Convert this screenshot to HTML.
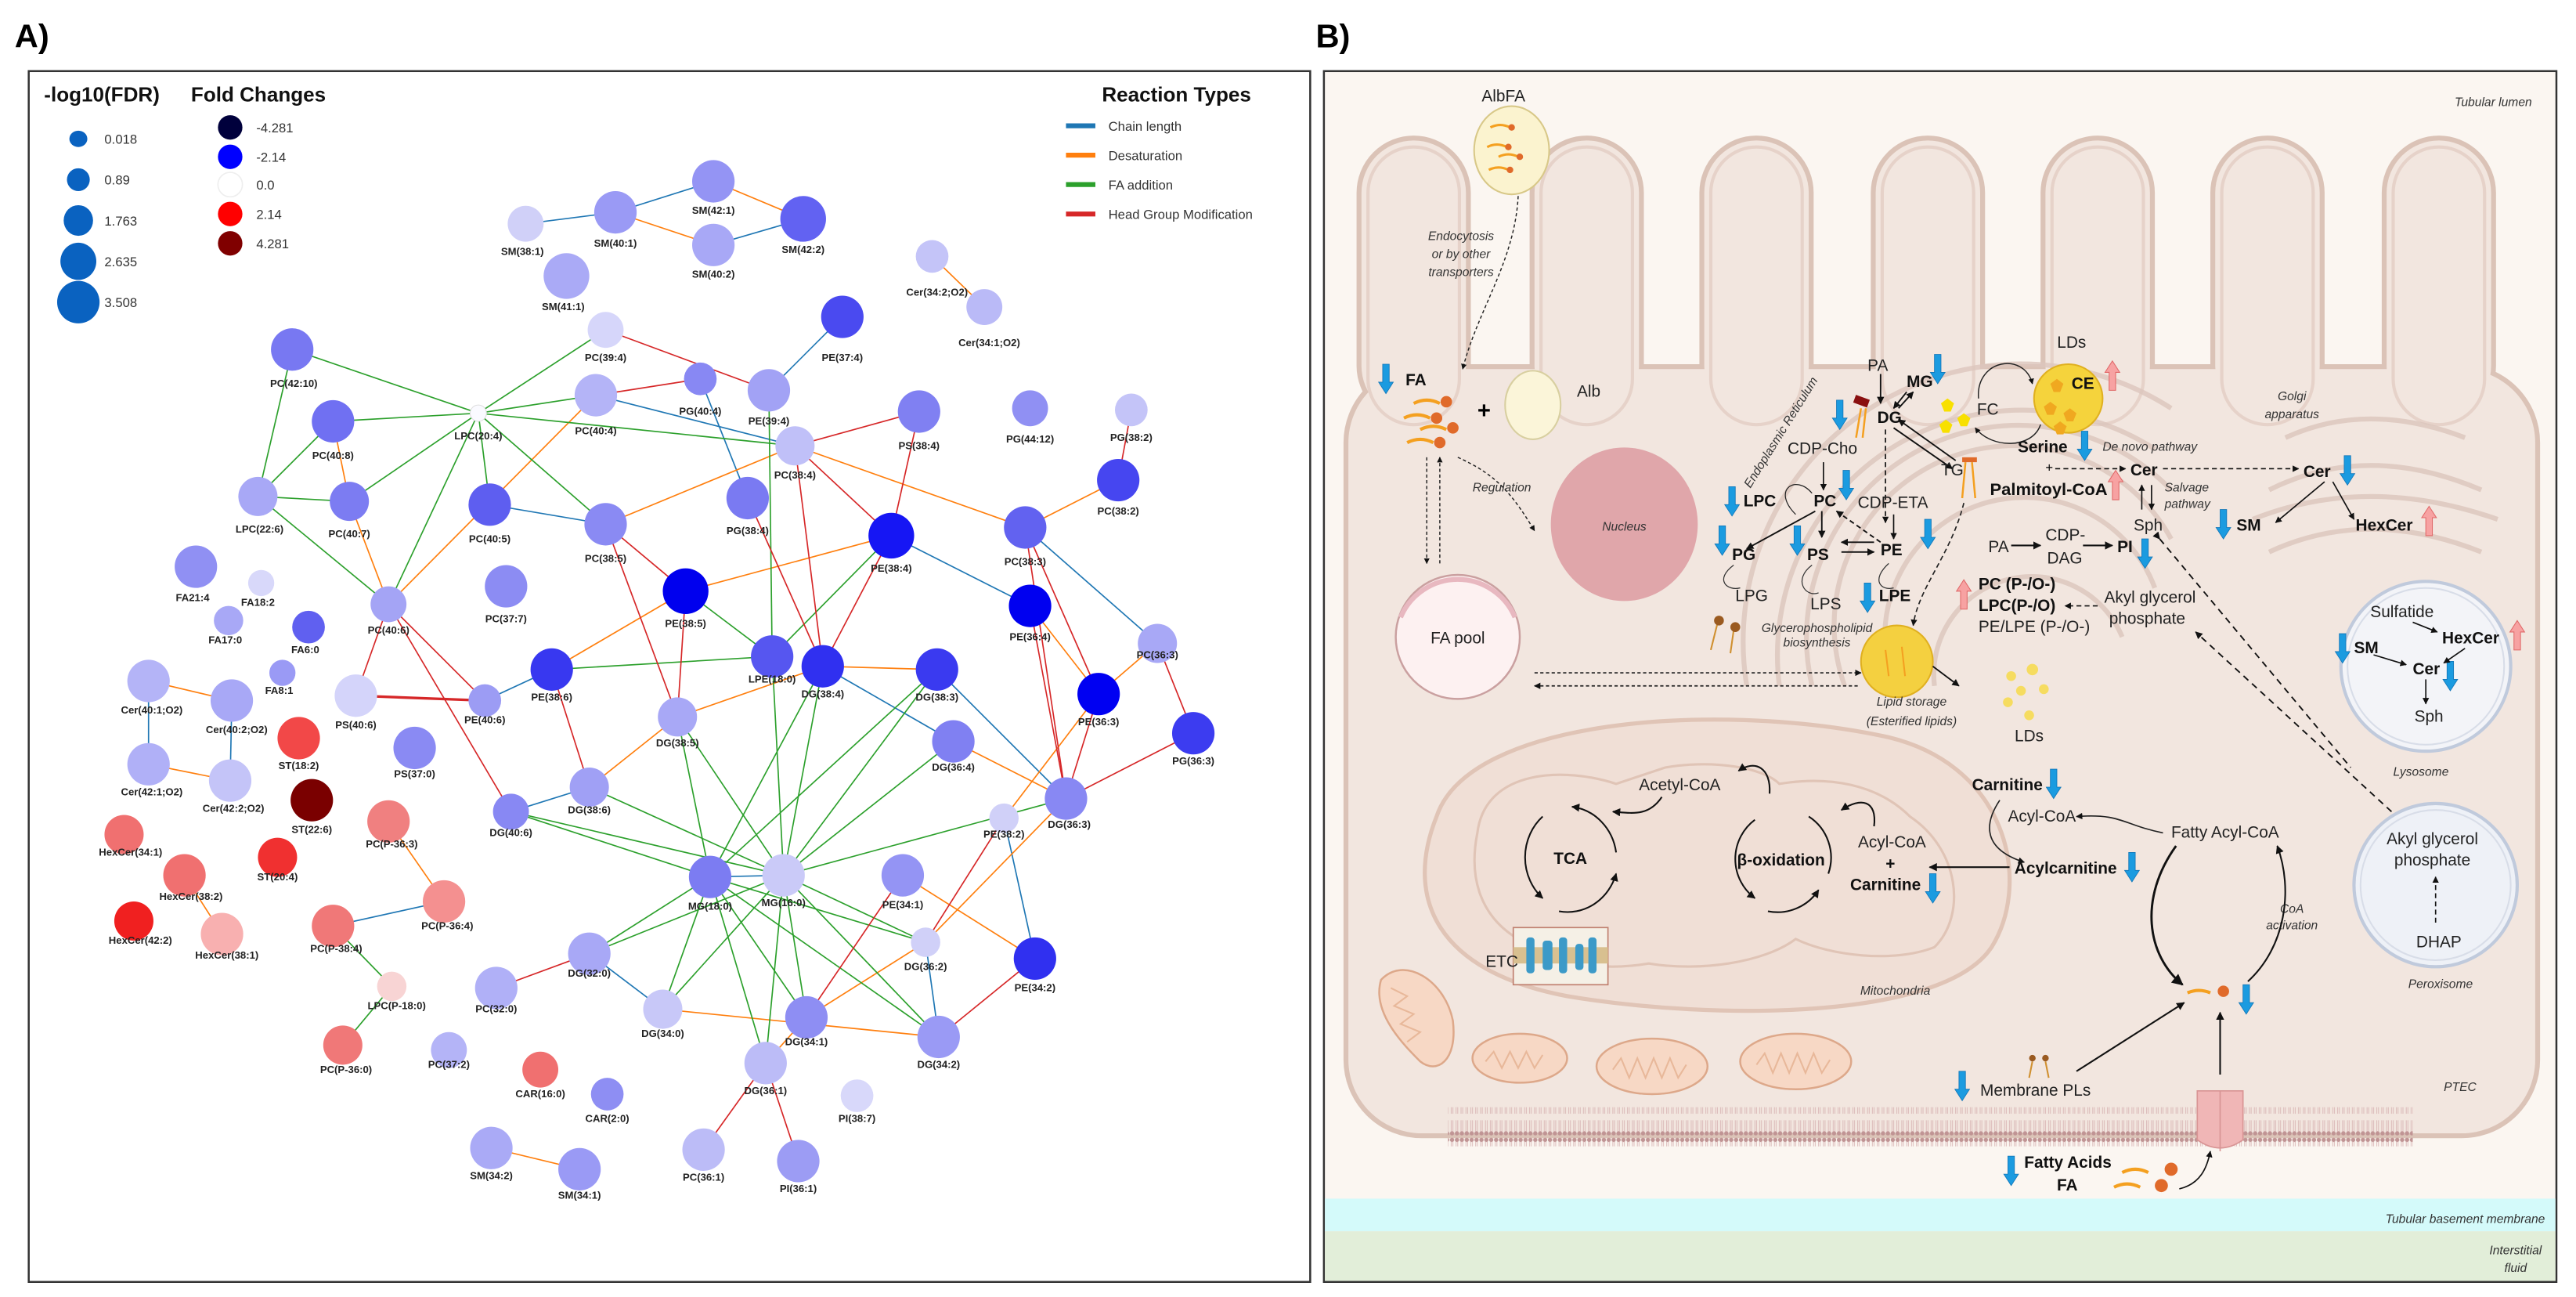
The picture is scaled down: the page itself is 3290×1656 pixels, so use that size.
<!DOCTYPE html>
<html><head><meta charset="utf-8"><style>
html,body{margin:0;padding:0;background:#fff}
svg{display:block}
.nl{font-family:"Liberation Sans Narrow","Liberation Sans",sans-serif;font-weight:bold;font-size:6.3px;fill:#222;text-anchor:middle}
.lg{font-family:"Liberation Sans Narrow","Liberation Sans",sans-serif;font-size:8px;fill:#333}
.lt{font-family:"Liberation Sans Narrow","Liberation Sans",sans-serif;font-weight:bold;font-size:12.5px;fill:#111}
.t{font-family:"Liberation Sans Narrow","Liberation Sans",sans-serif;font-size:10px;fill:#222}
.b{font-family:"Liberation Sans Narrow","Liberation Sans",sans-serif;font-size:10px;font-weight:bold;fill:#111}
.i{font-family:"Liberation Sans Narrow","Liberation Sans",sans-serif;font-size:7.5px;font-style:italic;fill:#333}
</style></head><body>
<svg width="3290" height="1656" viewBox="0 0 1578 794.2" xmlns="http://www.w3.org/2000/svg">
<defs>
<path id="da" d="M-2,0 H2 V11 H4.5 L0,18 L-4.5,11 H-2 Z" fill="#1b9be0" stroke="#1276b8" stroke-width="0.4"/>
<path id="ua" d="M-2,18 H2 V7 H4.5 L0,0 L-4.5,7 H-2 Z" fill="#f7a2a2" stroke="#e06868" stroke-width="0.5"/>
<marker id="ar" viewBox="0 0 10 10" refX="9" refY="5" markerWidth="5" markerHeight="5" orient="auto"><path d="M0,0 L10,5 L0,10 Z" fill="#111"/></marker>
<pattern id="mem" width="3" height="24" patternUnits="userSpaceOnUse"><circle cx="1.5" cy="2" r="1.3" fill="#c09494"/><circle cx="1.5" cy="22" r="1.3" fill="#c09494"/><line x1="1" y1="3" x2="1" y2="10" stroke="#d6b0b0" stroke-width="0.4"/><line x1="2" y1="3" x2="2" y2="10" stroke="#d6b0b0" stroke-width="0.4"/><line x1="1" y1="14" x2="1" y2="21" stroke="#d6b0b0" stroke-width="0.4"/><line x1="2" y1="14" x2="2" y2="21" stroke="#d6b0b0" stroke-width="0.4"/></pattern>
</defs>
<rect width="1578" height="794.2" fill="#fff"/>
<!-- PANEL A -->
<text x="9" y="29" font-family="Liberation Sans, sans-serif" font-weight="bold" font-size="20">A)</text>
<rect x="17.6" y="43.5" width="785" height="741.5" fill="#fff" stroke="#333" stroke-width="1.2"/>
<text class="lt" x="27" y="62">-log10(FDR)</text>
<text class="lt" x="117" y="62">Fold Changes</text>
<text class="lt" x="675" y="62">Reaction Types</text>
<g fill="#0a62c0"><ellipse cx="48" cy="85" rx="5.5" ry="5"/><ellipse cx="48" cy="110" rx="7" ry="7"/><ellipse cx="48" cy="135" rx="9" ry="9.4"/><ellipse cx="48" cy="160" rx="11" ry="11.4"/><ellipse cx="48" cy="185" rx="13" ry="13"/></g>
<g class="lg"><text x="64" y="88">0.018</text><text x="64" y="113">0.89</text><text x="64" y="138">1.763</text><text x="64" y="163">2.635</text><text x="64" y="188">3.508</text></g>
<circle cx="141" cy="78" r="7.5" fill="#00003c"/><circle cx="141" cy="96" r="7.5" fill="#0000ff"/><circle cx="141" cy="113" r="7.5" fill="#fff" stroke="#eee" stroke-width="0.8"/><circle cx="141" cy="131" r="7.5" fill="#ff0000"/><circle cx="141" cy="149" r="7.5" fill="#800000"/>
<g class="lg"><text x="157" y="81">-4.281</text><text x="157" y="99">-2.14</text><text x="157" y="116">0.0</text><text x="157" y="134">2.14</text><text x="157" y="152">4.281</text></g>
<g stroke-width="3"><line x1="653" y1="77" x2="671" y2="77" stroke="#1f77b4"/><line x1="653" y1="95" x2="671" y2="95" stroke="#ff7f0e"/><line x1="653" y1="113" x2="671" y2="113" stroke="#2ca02c"/><line x1="653" y1="131" x2="671" y2="131" stroke="#d62728"/></g>
<g class="lg"><text x="679" y="80">Chain length</text><text x="679" y="98">Desaturation</text><text x="679" y="116">FA addition</text><text x="679" y="134">Head Group Modification</text></g>
<!-- edges -->
<g stroke-width="0.8" fill="none">
<g stroke="#1f77b4">
<line x1="322" y1="137" x2="377" y2="130"/><line x1="377" y1="130" x2="437" y2="111"/><line x1="437" y1="150" x2="492" y2="134"/><line x1="516" y1="194" x2="471" y2="239"/><line x1="365" y1="242" x2="487" y2="273"/><line x1="429" y1="232" x2="458" y2="305"/><line x1="300" y1="309" x2="371" y2="321"/><line x1="546" y1="328" x2="631" y2="371"/><line x1="628" y1="323" x2="709" y2="394"/><line x1="574" y1="410" x2="653" y2="489"/><line x1="504" y1="408" x2="584" y2="454"/><line x1="91" y1="417" x2="91" y2="468"/><line x1="142" y1="429" x2="141" y2="478"/><line x1="297" y1="429" x2="338" y2="410"/><line x1="313" y1="497" x2="361" y2="482"/><line x1="435" y1="537" x2="480" y2="536"/><line x1="361" y1="584" x2="406" y2="618"/><line x1="567" y1="577" x2="575" y2="635"/><line x1="615" y1="501" x2="634" y2="587"/><line x1="204" y1="567" x2="272" y2="552"/>
</g>
<g stroke="#ff7f0e">
<line x1="377" y1="130" x2="437" y2="150"/><line x1="437" y1="111" x2="492" y2="134"/><line x1="571" y1="157" x2="603" y2="188"/><line x1="204" y1="258" x2="214" y2="307"/><line x1="214" y1="307" x2="238" y2="370"/><line x1="365" y1="242" x2="238" y2="370"/><line x1="487" y1="273" x2="371" y2="321"/><line x1="487" y1="273" x2="628" y2="323"/><line x1="685" y1="294" x2="628" y2="323"/><line x1="546" y1="328" x2="420" y2="362"/><line x1="415" y1="439" x2="504" y2="408"/><line x1="361" y1="482" x2="415" y2="439"/><line x1="504" y1="408" x2="574" y2="410"/><line x1="584" y1="454" x2="653" y2="489"/><line x1="673" y1="425" x2="615" y2="501"/><line x1="631" y1="371" x2="673" y2="425"/><line x1="653" y1="489" x2="567" y2="577"/><line x1="553" y1="536" x2="634" y2="587"/><line x1="406" y1="618" x2="575" y2="635"/><line x1="494" y1="623" x2="567" y2="577"/><line x1="91" y1="417" x2="142" y2="429"/><line x1="91" y1="468" x2="141" y2="478"/><line x1="301" y1="703" x2="355" y2="716"/><line x1="238" y1="503" x2="272" y2="552"/><line x1="113" y1="536" x2="136" y2="572"/><line x1="469" y1="651" x2="494" y2="623"/><line x1="420" y1="362" x2="338" y2="410"/><line x1="709" y1="394" x2="673" y2="425"/>
</g>
<g stroke="#2ca02c">
<line x1="293" y1="253" x2="179" y2="214"/><line x1="293" y1="253" x2="371" y2="202"/><line x1="293" y1="253" x2="365" y2="242"/><line x1="293" y1="253" x2="204" y2="258"/><line x1="293" y1="253" x2="487" y2="273"/><line x1="293" y1="253" x2="214" y2="307"/><line x1="293" y1="253" x2="300" y2="309"/><line x1="293" y1="253" x2="371" y2="321"/><line x1="293" y1="253" x2="238" y2="370"/><line x1="179" y1="214" x2="158" y2="304"/><line x1="204" y1="258" x2="158" y2="304"/><line x1="158" y1="304" x2="214" y2="307"/><line x1="158" y1="304" x2="238" y2="370"/><line x1="471" y1="239" x2="473" y2="402"/><line x1="546" y1="328" x2="473" y2="402"/><line x1="420" y1="362" x2="473" y2="402"/><line x1="338" y1="410" x2="473" y2="402"/><line x1="473" y1="402" x2="480" y2="536"/><line x1="504" y1="408" x2="435" y2="537"/><line x1="504" y1="408" x2="480" y2="536"/><line x1="574" y1="410" x2="435" y2="537"/><line x1="574" y1="410" x2="480" y2="536"/><line x1="415" y1="439" x2="435" y2="537"/><line x1="415" y1="439" x2="480" y2="536"/><line x1="361" y1="482" x2="480" y2="536"/><line x1="313" y1="497" x2="435" y2="537"/><line x1="313" y1="497" x2="480" y2="536"/><line x1="584" y1="454" x2="480" y2="536"/><line x1="653" y1="489" x2="480" y2="536"/><line x1="435" y1="537" x2="361" y2="584"/><line x1="480" y1="536" x2="361" y2="584"/><line x1="435" y1="537" x2="406" y2="618"/><line x1="480" y1="536" x2="406" y2="618"/><line x1="435" y1="537" x2="494" y2="623"/><line x1="480" y1="536" x2="494" y2="623"/><line x1="435" y1="537" x2="469" y2="651"/><line x1="480" y1="536" x2="469" y2="651"/><line x1="435" y1="537" x2="567" y2="577"/><line x1="480" y1="536" x2="567" y2="577"/><line x1="480" y1="536" x2="575" y2="635"/><line x1="435" y1="537" x2="575" y2="635"/><line x1="204" y1="567" x2="240" y2="604"/><line x1="240" y1="604" x2="210" y2="640"/>
</g>
<g stroke="#d62728">
<line x1="371" y1="202" x2="471" y2="239"/><line x1="365" y1="242" x2="429" y2="232"/><line x1="487" y1="273" x2="563" y2="252"/><line x1="693" y1="251" x2="685" y2="294"/><line x1="487" y1="273" x2="546" y2="328"/><line x1="563" y1="252" x2="546" y2="328"/><line x1="371" y1="321" x2="420" y2="362"/><line x1="458" y1="305" x2="504" y2="408"/><line x1="487" y1="273" x2="504" y2="408"/><line x1="628" y1="323" x2="673" y2="425"/><line x1="628" y1="323" x2="653" y2="489"/><line x1="238" y1="370" x2="218" y2="426"/><line x1="238" y1="370" x2="297" y2="429"/><line x1="238" y1="370" x2="313" y2="497"/><line x1="218" y1="426" x2="297" y2="429" stroke-width="1.6"/><line x1="338" y1="410" x2="361" y2="482"/><line x1="371" y1="321" x2="415" y2="439"/><line x1="420" y1="362" x2="415" y2="439"/><line x1="673" y1="425" x2="653" y2="489"/><line x1="709" y1="394" x2="731" y2="449"/><line x1="731" y1="449" x2="653" y2="489"/><line x1="553" y1="536" x2="494" y2="623"/><line x1="634" y1="587" x2="575" y2="635"/><line x1="615" y1="501" x2="567" y2="577"/><line x1="361" y1="584" x2="304" y2="605"/><line x1="469" y1="651" x2="431" y2="704"/><line x1="469" y1="651" x2="489" y2="711"/><line x1="631" y1="371" x2="653" y2="489"/><line x1="546" y1="328" x2="504" y2="408"/>
</g>
</g>
<!-- nodes -->
<g>
<circle cx="322" cy="137" r="11" fill="#d0d0f8"/><circle cx="377" cy="130" r="13" fill="#9a9af5"/><circle cx="437" cy="111" r="13" fill="#9494f4"/><circle cx="492" cy="134" r="14" fill="#6262f2"/><circle cx="437" cy="150" r="13" fill="#a8a8f6"/><circle cx="347" cy="169" r="14" fill="#aaaaf6"/><circle cx="571" cy="157" r="10" fill="#c4c4f8"/><circle cx="603" cy="188" r="11" fill="#babaf7"/><circle cx="516" cy="194" r="13" fill="#4a4af0"/><circle cx="371" cy="202" r="11" fill="#d6d6fa"/><circle cx="179" cy="214" r="13" fill="#7878f2"/><circle cx="429" cy="232" r="10" fill="#8888f3"/><circle cx="471" cy="239" r="13" fill="#a2a2f5"/><circle cx="365" cy="242" r="13" fill="#b4b4f7"/><circle cx="293" cy="253" r="5" fill="#fafaff" stroke="#ddd" stroke-width="0.5"/><circle cx="563" cy="252" r="13" fill="#8080f2"/><circle cx="631" cy="250" r="11" fill="#9090f3"/><circle cx="693" cy="251" r="10" fill="#c4c4f8"/><circle cx="204" cy="258" r="13" fill="#7070f2"/><circle cx="487" cy="273" r="12" fill="#c0c0f8"/><circle cx="158" cy="304" r="12" fill="#a8a8f6"/><circle cx="214" cy="307" r="12" fill="#7c7cf2"/><circle cx="300" cy="309" r="13" fill="#5e5ef0"/><circle cx="371" cy="321" r="13" fill="#8a8af3"/><circle cx="458" cy="305" r="13" fill="#7a7af2"/><circle cx="546" cy="328" r="14" fill="#1616f4"/><circle cx="628" cy="323" r="13" fill="#6262f0"/><circle cx="685" cy="294" r="13" fill="#4646f0"/><circle cx="120" cy="347" r="13" fill="#9090f3"/><circle cx="160" cy="357" r="8" fill="#d8d8fa"/><circle cx="140" cy="380" r="9" fill="#a8a8f6"/><circle cx="238" cy="370" r="11" fill="#a4a4f5"/><circle cx="310" cy="359" r="13" fill="#8c8cf3"/><circle cx="420" cy="362" r="14" fill="#0000ee"/><circle cx="631" cy="371" r="13" fill="#0000f0"/>
<circle cx="189" cy="384" r="10" fill="#6060f0"/><circle cx="173" cy="412" r="8" fill="#9a9af5"/><circle cx="91" cy="417" r="13" fill="#b4b4f7"/><circle cx="142" cy="429" r="13" fill="#a8a8f6"/><circle cx="91" cy="468" r="13" fill="#b0b0f7"/><circle cx="141" cy="478" r="13" fill="#c4c4f8"/><circle cx="183" cy="452" r="13" fill="#f24848"/><circle cx="191" cy="490" r="13" fill="#7a0000"/><circle cx="170" cy="525" r="12" fill="#f03030"/><circle cx="218" cy="426" r="13" fill="#d4d4fa"/><circle cx="297" cy="429" r="10" fill="#9c9cf4"/><circle cx="338" cy="410" r="13" fill="#3838f0"/><circle cx="254" cy="458" r="13" fill="#8a8af3"/><circle cx="415" cy="439" r="12" fill="#a8a8f6"/><circle cx="361" cy="482" r="12" fill="#a0a0f5"/><circle cx="313" cy="497" r="11" fill="#8888f3"/><circle cx="473" cy="402" r="13" fill="#5656f0"/><circle cx="504" cy="408" r="13" fill="#3030f0"/><circle cx="574" cy="410" r="13" fill="#3a3af0"/><circle cx="673" cy="425" r="13" fill="#0000f2"/><circle cx="731" cy="449" r="13" fill="#3c3cf0"/><circle cx="709" cy="394" r="12" fill="#a8a8f6"/><circle cx="584" cy="454" r="13" fill="#8080f2"/><circle cx="653" cy="489" r="13" fill="#8888f3"/><circle cx="615" cy="501" r="9" fill="#d0d0f8"/><circle cx="435" cy="537" r="13" fill="#7c7cf2"/><circle cx="480" cy="536" r="13" fill="#cacaf8"/><circle cx="553" cy="536" r="13" fill="#9494f4"/><circle cx="567" cy="577" r="9" fill="#d0d0f8"/><circle cx="634" cy="587" r="13" fill="#3030f0"/><circle cx="361" cy="584" r="13" fill="#a8a8f6"/><circle cx="304" cy="605" r="13" fill="#b0b0f7"/><circle cx="406" cy="618" r="12" fill="#c8c8f8"/><circle cx="494" cy="623" r="13" fill="#8e8ef3"/><circle cx="575" cy="635" r="13" fill="#9a9af5"/><circle cx="469" cy="651" r="13" fill="#bcbcf7"/><circle cx="275" cy="643" r="11" fill="#b4b4f7"/><circle cx="204" cy="567" r="13" fill="#f07878"/><circle cx="238" cy="503" r="13" fill="#f08080"/><circle cx="272" cy="552" r="13" fill="#f49090"/><circle cx="240" cy="604" r="9" fill="#f8d4d4"/><circle cx="210" cy="640" r="12" fill="#f07878"/><circle cx="76" cy="511" r="12" fill="#f07070"/><circle cx="113" cy="536" r="13" fill="#f07070"/><circle cx="82" cy="564" r="12" fill="#f02020"/><circle cx="136" cy="572" r="13" fill="#f8b0b0"/><circle cx="331" cy="655" r="11" fill="#f07070"/><circle cx="372" cy="670" r="10" fill="#8e8ef3"/><circle cx="525" cy="671" r="10" fill="#d8d8fa"/><circle cx="301" cy="703" r="13" fill="#aaaaf6"/><circle cx="355" cy="716" r="13" fill="#9a9af5"/><circle cx="431" cy="704" r="13" fill="#bcbcf7"/><circle cx="489" cy="711" r="13" fill="#9c9cf4"/>
</g>
<g class="nl">
<text x="320" y="156">SM(38:1)</text><text x="377" y="151">SM(40:1)</text><text x="437" y="131">SM(42:1)</text><text x="492" y="155">SM(42:2)</text><text x="437" y="170">SM(40:2)</text><text x="345" y="190">SM(41:1)</text><text x="574" y="181">Cer(34:2;O2)</text><text x="606" y="212">Cer(34:1;O2)</text><text x="516" y="221">PE(37:4)</text><text x="371" y="221">PC(39:4)</text><text x="180" y="237">PC(42:10)</text><text x="429" y="254">PG(40:4)</text><text x="471" y="260">PE(39:4)</text><text x="365" y="266">PC(40:4)</text><text x="293" y="269">LPC(20:4)</text><text x="563" y="275">PS(38:4)</text><text x="631" y="271">PG(44:12)</text><text x="693" y="270">PG(38:2)</text><text x="204" y="281">PC(40:8)</text><text x="487" y="293">PC(38:4)</text><text x="159" y="326">LPC(22:6)</text><text x="214" y="329">PC(40:7)</text><text x="300" y="332">PC(40:5)</text><text x="371" y="344">PC(38:5)</text><text x="458" y="327">PG(38:4)</text><text x="546" y="350">PE(38:4)</text><text x="628" y="346">PC(38:3)</text><text x="685" y="315">PC(38:2)</text><text x="118" y="368">FA21:4</text><text x="158" y="371">FA18:2</text><text x="138" y="394">FA17:0</text><text x="238" y="388">PC(40:6)</text><text x="310" y="381">PC(37:7)</text><text x="420" y="384">PE(38:5)</text><text x="631" y="392">PE(36:4)</text>
<text x="187" y="400">FA6:0</text><text x="171" y="425">FA8:1</text><text x="93" y="437">Cer(40:1;O2)</text><text x="145" y="449">Cer(40:2;O2)</text><text x="93" y="487">Cer(42:1;O2)</text><text x="143" y="497">Cer(42:2;O2)</text><text x="183" y="471">ST(18:2)</text><text x="191" y="510">ST(22:6)</text><text x="170" y="539">ST(20:4)</text><text x="218" y="446">PS(40:6)</text><text x="297" y="443">PE(40:6)</text><text x="338" y="429">PE(38:6)</text><text x="254" y="476">PS(37:0)</text><text x="415" y="457">DG(38:5)</text><text x="361" y="498">DG(38:6)</text><text x="313" y="512">DG(40:6)</text><text x="473" y="418">LPE(18:0)</text><text x="504" y="427">DG(38:4)</text><text x="574" y="429">DG(38:3)</text><text x="673" y="444">PE(36:3)</text><text x="731" y="468">PG(36:3)</text><text x="709" y="403">PC(36:3)</text><text x="584" y="472">DG(36:4)</text><text x="655" y="507">DG(36:3)</text><text x="615" y="513">PE(38:2)</text><text x="435" y="557">MG(18:0)</text><text x="480" y="555">MG(16:0)</text><text x="553" y="556">PE(34:1)</text><text x="567" y="594">DG(36:2)</text><text x="634" y="607">PE(34:2)</text><text x="361" y="598">DG(32:0)</text><text x="304" y="620">PC(32:0)</text><text x="406" y="635">DG(34:0)</text><text x="494" y="640">DG(34:1)</text><text x="575" y="654">DG(34:2)</text><text x="469" y="670">DG(36:1)</text><text x="275" y="654">PC(37:2)</text><text x="206" y="583">PC(P-38:4)</text><text x="240" y="519">PC(P-36:3)</text><text x="274" y="569">PC(P-36:4)</text><text x="243" y="618">LPC(P-18:0)</text><text x="212" y="657">PC(P-36:0)</text><text x="80" y="524">HexCer(34:1)</text><text x="117" y="551">HexCer(38:2)</text><text x="86" y="578">HexCer(42:2)</text><text x="139" y="587">HexCer(38:1)</text><text x="331" y="672">CAR(16:0)</text><text x="372" y="687">CAR(2:0)</text><text x="525" y="687">PI(38:7)</text><text x="301" y="722">SM(34:2)</text><text x="355" y="734">SM(34:1)</text><text x="431" y="723">PC(36:1)</text><text x="489" y="730">PI(36:1)</text>
</g>

<!-- PANEL B -->
<text x="806" y="29" font-family="Liberation Sans, sans-serif" font-weight="bold" font-size="20">B)</text>
<rect x="811" y="43.5" width="755" height="741.5" fill="#fbf6f1" stroke="#333" stroke-width="1.2"/>
<rect x="811.6" y="734" width="753.8" height="20" fill="#d4fafa"/>
<rect x="811.6" y="754" width="753.8" height="30.4" fill="#e2eed9"/>
<!-- cell -->
<g stroke="#dbc3b7" stroke-width="6" fill="#f2e6df">
<rect x="826" y="226" width="727" height="468" rx="45"/>
<rect x="834" y="86" width="64" height="170" rx="32"/><rect x="940" y="86" width="64" height="170" rx="32"/><rect x="1044" y="86" width="64" height="170" rx="32"/><rect x="1149" y="86" width="64" height="170" rx="32"/><rect x="1253" y="86" width="64" height="170" rx="32"/><rect x="1357" y="86" width="64" height="170" rx="32"/><rect x="1462" y="86" width="64" height="170" rx="32"/>
</g>
<g fill="#f2e6df">
<rect x="826" y="226" width="727" height="468" rx="45"/>
<rect x="834" y="86" width="64" height="170" rx="32"/><rect x="940" y="86" width="64" height="170" rx="32"/><rect x="1044" y="86" width="64" height="170" rx="32"/><rect x="1149" y="86" width="64" height="170" rx="32"/><rect x="1253" y="86" width="64" height="170" rx="32"/><rect x="1357" y="86" width="64" height="170" rx="32"/><rect x="1462" y="86" width="64" height="170" rx="32"/>
</g>
<g stroke="#e6d2c9" stroke-width="2" fill="none">
<rect x="838" y="90" width="56" height="170" rx="28"/><rect x="944" y="90" width="56" height="170" rx="28"/><rect x="1048" y="90" width="56" height="170" rx="28"/><rect x="1153" y="90" width="56" height="170" rx="28"/><rect x="1257" y="90" width="56" height="170" rx="28"/><rect x="1361" y="90" width="56" height="170" rx="28"/><rect x="1466" y="90" width="56" height="170" rx="28"/>
</g>
<text class="i" x="1551" y="65" text-anchor="end">Tubular lumen</text>
<!-- ER arcs -->
<g stroke="#dcc6bd" stroke-width="3" fill="none" opacity="0.8">
<path d="M1070,420 A170,170 0 0 1 1330,250"/><path d="M1090,420 A150,150 0 0 1 1320,275"/><path d="M1110,420 A130,130 0 0 1 1330,300"/><path d="M1130,420 A110,110 0 0 1 1330,330"/><path d="M1160,420 A85,85 0 0 1 1320,360"/><path d="M1185,420 A60,60 0 0 1 1300,390"/>
<path d="M1390,300 Q1450,270 1520,300"/><path d="M1380,318 Q1450,290 1530,318"/><path d="M1390,338 Q1450,310 1520,338"/><path d="M1400,268 Q1450,245 1510,268"/>
</g>
<!-- AlbFA -->
<text class="t" x="921" y="62" text-anchor="middle">AlbFA</text>
<ellipse cx="926" cy="92" rx="23" ry="27" fill="#fbf3cf" stroke="#d8c888" stroke-width="1"/>
<g stroke="#f4a020" stroke-width="1.5" fill="none"><path d="M913,78 q6,-3 12,0"/><path d="M911,90 q6,-3 12,0"/><path d="M918,96 q6,-3 12,0"/><path d="M912,104 q6,-3 12,0"/></g>
<g fill="#e06a2a"><circle cx="926" cy="78" r="2"/><circle cx="924" cy="90" r="2"/><circle cx="931" cy="96" r="2"/><circle cx="925" cy="104" r="2"/></g>
<g class="i" text-anchor="middle" font-size="8.5"><text x="895" y="147">Endocytosis</text><text x="895" y="158">or by other</text><text x="895" y="169">transporters</text></g>
<path d="M930,120 C928,160 905,190 896,226" stroke="#222" stroke-width="0.7" stroke-dasharray="2,1.5" fill="none" marker-end="url(#ar)"/>
<use href="#da" x="849" y="223"/><text class="b" x="861" y="236">FA</text>
<g stroke="#f4a020" stroke-width="2" fill="none"><path d="M866,247 q8,-4 16,0"/><path d="M860,256 q8,-4 16,0"/><path d="M870,263 q8,-4 16,0"/><path d="M862,271 q8,-4 16,0"/></g>
<g fill="#e06a2a"><circle cx="886" cy="246" r="3.5"/><circle cx="880" cy="256" r="3.5"/><circle cx="890" cy="262" r="3.5"/><circle cx="882" cy="271" r="3.5"/></g>
<text x="905" y="256" font-family="Liberation Sans, sans-serif" font-weight="bold" font-size="14">+</text>
<ellipse cx="939" cy="248" rx="17" ry="21" fill="#fbf5d9" stroke="#d8cfa0" stroke-width="1"/>
<text class="t" x="966" y="243">Alb</text>
<text class="i" x="920" y="301" text-anchor="middle" font-size="8">Regulation</text>
<path d="M893,280 C915,290 925,300 940,325" stroke="#222" stroke-width="0.7" stroke-dasharray="2,1.5" fill="none" marker-end="url(#ar)"/>
<ellipse cx="995" cy="321" rx="45" ry="47" fill="#e0a6aa"/>
<text class="i" x="995" y="325" text-anchor="middle" font-size="9">Nucleus</text>
<g stroke="#222" stroke-width="0.7" stroke-dasharray="2,1.5"><line x1="874" y1="280" x2="874" y2="345" marker-end="url(#ar)"/><line x1="882" y1="345" x2="882" y2="280" marker-end="url(#ar)"/></g>
<circle cx="893" cy="390" r="38" fill="#fdf1f1" stroke="#caa0a0" stroke-width="1.2"/>
<path d="M858,378 A38,38 0 0 1 928,378" stroke="#e8b8c0" stroke-width="3" fill="none"/>
<text class="t" x="893" y="394" text-anchor="middle">FA pool</text>
<g stroke="#222" stroke-width="0.8" stroke-dasharray="2,1.5"><line x1="940" y1="412" x2="1140" y2="412" marker-end="url(#ar)"/><line x1="1138" y1="420" x2="940" y2="420" marker-end="url(#ar)"/></g>
<!-- ER labels -->
<text class="i" x="1093" y="266" font-size="9" transform="rotate(-58 1093 266)" text-anchor="middle">Endoplasmic Reticulum</text>
<text class="t" x="1144" y="227">PA</text>
<text class="b" x="1168" y="237">MG</text><use href="#da" x="1187" y="217"/>
<text class="b" x="1150" y="259">DG</text><use href="#da" x="1127" y="245"/>
<rect x="1136" y="243" width="9" height="5" fill="#8a1010" transform="rotate(20 1140 245)"/>
<g stroke="#f4a020" stroke-width="1.2"><line x1="1140" y1="250" x2="1137" y2="268"/><line x1="1143" y1="250" x2="1141" y2="268"/></g>
<g stroke="#111" stroke-width="0.9" fill="none"><line x1="1152" y1="229" x2="1152" y2="247" marker-end="url(#ar)"/><line x1="1168" y1="240" x2="1160" y2="250" marker-end="url(#ar)"/><line x1="1163" y1="250" x2="1172" y2="240" marker-end="url(#ar)"/><line x1="1160" y1="262" x2="1196" y2="287" marker-end="url(#ar)"/><line x1="1198" y1="282" x2="1163" y2="257" marker-end="url(#ar)"/></g>
<line x1="1155" y1="263" x2="1155" y2="320" stroke="#111" stroke-width="0.8" stroke-dasharray="3,2" marker-end="url(#ar)"/>
<g fill="#f8e000"><polygon points="1193,244 1197,247 1195,252 1191,252 1189,247"/><polygon points="1192,257 1196,260 1194,265 1190,265 1188,260"/><polygon points="1203,253 1207,256 1205,261 1201,261 1199,256"/></g>
<text class="t" x="1211" y="254">FC</text>
<path d="M1212,244 C1210,220 1240,215 1245,235" stroke="#222" stroke-width="0.7" fill="none" marker-end="url(#ar)"/>
<path d="M1250,260 C1245,275 1220,275 1210,262" stroke="#222" stroke-width="0.7" fill="none" marker-end="url(#ar)"/>
<text class="t" x="1269" y="213" text-anchor="middle">LDs</text>
<circle cx="1267" cy="244" r="21" fill="#f5d33c" stroke="#e0b020" stroke-width="1"/>
<g fill="#f0a820"><polygon points="1260,232 1264,235 1262,240 1258,240 1256,235"/><polygon points="1256,246 1260,249 1258,254 1254,254 1252,249"/><polygon points="1268,250 1272,253 1270,258 1266,258 1264,253"/><polygon points="1262,258 1266,261 1264,266 1260,266 1258,261"/></g>
<text class="b" x="1269" y="238">CE</text><use href="#ua" x="1294" y="221"/>
<text class="t" x="1189" y="291">TG</text>
<g stroke="#f4a020" stroke-width="1.2"><line x1="1204" y1="283" x2="1202" y2="305"/><line x1="1208" y1="283" x2="1210" y2="305"/></g><rect x="1202" y="280" width="9" height="3" fill="#e06a2a"/>
<path d="M1203,308 C1195,340 1175,360 1172,383" stroke="#222" stroke-width="0.8" stroke-dasharray="3,2" fill="none" marker-end="url(#ar)"/>
<text class="t" x="1095" y="278">CDP-Cho</text>
<line x1="1117" y1="283" x2="1117" y2="300" stroke="#111" stroke-width="0.8" marker-end="url(#ar)"/>
<text class="b" x="1068" y="310">LPC</text><use href="#da" x="1061" y="298"/>
<text class="b" x="1111" y="310">PC</text><use href="#da" x="1131" y="288"/>
<text class="t" x="1138" y="311">CDP-ETA</text>
<line x1="1160" y1="315" x2="1160" y2="330" stroke="#111" stroke-width="0.8" marker-end="url(#ar)"/>
<path d="M1110,302 C1100,290 1085,300 1100,315" stroke="#222" stroke-width="0.6" fill="none"/>
<text class="b" x="1061" y="343">PG</text><use href="#da" x="1055" y="322"/>
<text class="b" x="1107" y="343">PS</text><use href="#da" x="1101" y="322"/>
<text class="b" x="1152" y="340">PE</text><use href="#da" x="1181" y="318"/>
<g stroke="#111" stroke-width="0.9"><line x1="1112" y1="313" x2="1070" y2="336" marker-end="url(#ar)"/><line x1="1116" y1="313" x2="1116" y2="329" marker-end="url(#ar)"/><line x1="1152" y1="332" x2="1125" y2="313" stroke-dasharray="3,2" marker-end="url(#ar)"/><line x1="1148" y1="332" x2="1128" y2="332" marker-end="url(#ar)"/><line x1="1128" y1="338" x2="1148" y2="338" marker-end="url(#ar)"/></g>
<g stroke="#333" stroke-width="0.6" fill="none"><path d="M1062,346 C1050,355 1058,362 1066,360"/><path d="M1110,346 C1098,355 1106,366 1114,363"/><path d="M1157,345 C1146,355 1152,362 1160,360"/></g>
<text class="t" x="1063" y="368">LPG</text><text class="t" x="1109" y="373">LPS</text>
<text class="b" x="1151" y="368">LPE</text><use href="#da" x="1144" y="357"/>
<g class="i" font-size="7.5" text-anchor="middle"><text x="1113" y="387">Glycerophospholipid</text><text x="1113" y="396">biosynthesis</text></g>
<g stroke="#d09030" stroke-width="1"><line x1="1052" y1="382" x2="1048" y2="398"/><line x1="1062" y1="386" x2="1060" y2="400"/></g><circle cx="1053" cy="380" r="3" fill="#9a5a20"/><circle cx="1063" cy="384" r="3" fill="#9a5a20"/>
<!-- sphingolipids -->
<text class="b" x="1236" y="277">Serine</text><use href="#da" x="1277" y="264"/>
<text class="i" x="1288" y="276" font-size="8">De novo pathway</text>
<text class="b" x="1219" y="303" textLength="72" lengthAdjust="spacingAndGlyphs">Palmitoyl-CoA</text><use href="#ua" x="1296" y="288"/>
<text x="1253" y="289" font-family="Liberation Sans, sans-serif" font-size="8">+</text>
<line x1="1259" y1="287" x2="1302" y2="287" stroke="#111" stroke-width="0.8" stroke-dasharray="3,2" marker-end="url(#ar)"/>
<text class="b" x="1305" y="291">Cer</text>
<line x1="1325" y1="287" x2="1408" y2="287" stroke="#111" stroke-width="0.8" stroke-dasharray="3,2" marker-end="url(#ar)"/>
<text class="b" x="1411" y="292">Cer</text><use href="#da" x="1438" y="279"/>
<g stroke="#111" stroke-width="0.8"><line x1="1312" y1="312" x2="1312" y2="297" marker-end="url(#ar)"/><line x1="1318" y1="297" x2="1318" y2="312" marker-end="url(#ar)"/><line x1="1424" y1="295" x2="1394" y2="320" marker-end="url(#ar)"/><line x1="1429" y1="295" x2="1442" y2="318" marker-end="url(#ar)"/></g>
<g class="i" font-size="8"><text x="1326" y="301">Salvage</text><text x="1326" y="311">pathway</text></g>
<text class="t" x="1307" y="325">Sph</text>
<text class="b" x="1370" y="325">SM</text><use href="#da" x="1362" y="312"/>
<text class="b" x="1443" y="325">HexCer</text><use href="#ua" x="1488" y="310"/>
<g class="i" font-size="8.5" text-anchor="middle"><text x="1404" y="245">Golgi</text><text x="1404" y="256">apparatus</text></g>
<text class="t" x="1218" y="338">PA</text>
<line x1="1232" y1="334" x2="1250" y2="334" stroke="#111" stroke-width="1" marker-end="url(#ar)"/>
<text class="t" x="1253" y="331">CDP-</text><text class="t" x="1254" y="345">DAG</text>
<line x1="1276" y1="334" x2="1294" y2="334" stroke="#111" stroke-width="1" marker-end="url(#ar)"/>
<text class="b" x="1297" y="338">PI</text><use href="#da" x="1314" y="330"/>
<use href="#ua" x="1203" y="355"/>
<text class="b" x="1212" y="361">PC (P-/O-)</text><text class="b" x="1212" y="374">LPC(P-/O)</text><text class="t" x="1212" y="387">PE/LPE (P-/O-)</text>
<line x1="1285" y1="371" x2="1265" y2="371" stroke="#111" stroke-width="0.8" stroke-dasharray="3,2" marker-end="url(#ar)"/>
<text class="t" x="1289" y="369">Akyl glycerol</text><text class="t" x="1292" y="382">phosphate</text>
<g stroke="#111" stroke-width="0.9" stroke-dasharray="4,3" fill="none"><line x1="1323" y1="330" x2="1440" y2="470" marker-start="url(#ar)"/><line x1="1465" y1="497" x2="1345" y2="387" marker-end="url(#ar)"/></g>
<!-- lysosome -->
<circle cx="1486" cy="408" r="52" fill="#f3f4f8" stroke="#c0cadc" stroke-width="2"/>
<circle cx="1486" cy="408" r="48" fill="none" stroke="#d8dde8" stroke-width="1"/>
<text class="t" x="1452" y="378">Sulfatide</text>
<text class="b" x="1496" y="394">HexCer</text><use href="#ua" x="1542" y="380"/>
<text class="b" x="1442" y="400">SM</text><use href="#da" x="1435" y="388"/>
<text class="b" x="1478" y="413">Cer</text><use href="#da" x="1501" y="405"/>
<text class="t" x="1479" y="442">Sph</text>
<g stroke="#111" stroke-width="0.8"><line x1="1478" y1="381" x2="1493" y2="387" marker-end="url(#ar)"/><line x1="1454" y1="401" x2="1474" y2="407" marker-end="url(#ar)"/><line x1="1486" y1="416" x2="1486" y2="431" marker-end="url(#ar)"/><line x1="1510" y1="397" x2="1497" y2="406" marker-end="url(#ar)"/></g>
<text class="i" x="1483" y="475" text-anchor="middle" font-size="8.5">Lysosome</text>
<!-- peroxisome -->
<circle cx="1492" cy="542" r="50" fill="#eef1f7" stroke="#c0cadc" stroke-width="2"/>
<circle cx="1492" cy="542" r="46" fill="none" stroke="#d8dde8" stroke-width="1"/>
<text class="t" x="1490" y="517" text-anchor="middle">Akyl glycerol</text><text class="t" x="1490" y="530" text-anchor="middle">phosphate</text>
<line x1="1492" y1="565" x2="1492" y2="537" stroke="#111" stroke-width="0.8" stroke-dasharray="3,2" marker-end="url(#ar)"/>
<text class="t" x="1494" y="580" text-anchor="middle">DHAP</text>
<text class="i" x="1495" y="605" text-anchor="middle" font-size="8.5">Peroxisome</text>
<!-- lipid storage -->
<circle cx="1162" cy="405" r="22" fill="#f4d040" stroke="#e0b020" stroke-width="1"/>
<g stroke="#f4a020" stroke-width="1"><line x1="1155" y1="398" x2="1157" y2="414"/><line x1="1165" y1="396" x2="1167" y2="414"/></g>
<g class="i" font-size="8.5" text-anchor="middle"><text x="1171" y="432">Lipid storage</text><text x="1171" y="444">(Esterified lipids)</text></g>
<line x1="1184" y1="408" x2="1200" y2="420" stroke="#111" stroke-width="0.9" marker-end="url(#ar)"/>
<g fill="#f6dc60"><circle cx="1232" cy="414" r="3"/><circle cx="1245" cy="410" r="3.5"/><circle cx="1238" cy="423" r="3"/><circle cx="1252" cy="422" r="3"/><circle cx="1230" cy="430" r="3"/><circle cx="1243" cy="438" r="3"/></g>
<text class="t" x="1243" y="454" text-anchor="middle">LDs</text>
<!-- mitochondria -->
<path d="M880,500 C900,440 1050,430 1150,450 C1230,465 1245,540 1220,580 C1190,625 1050,625 960,610 C880,595 860,550 880,500 Z" fill="#f0dfd6" stroke="#e0c4b6" stroke-width="2.5"/>
<path d="M905,510 C910,470 960,470 990,480 L1020,470 C1050,465 1080,470 1090,480 C1120,475 1150,480 1170,500 C1200,520 1205,560 1185,580 C1160,590 1120,585 1100,575 C1080,590 1040,595 1010,590 C980,595 950,590 930,575 C905,560 900,535 905,510 Z" fill="none" stroke="#e0c4b6" stroke-width="1.5"/>
<text class="t" x="1029" y="484" text-anchor="middle">Acetyl-CoA</text>
<g stroke="#111" stroke-width="1" fill="none">
<path d="M945,500 A31,33 0 0 0 945,550" marker-end="url(#ar)"/><path d="M955,558 A31,33 0 0 0 990,535" marker-end="url(#ar)"/><path d="M990,522 A31,33 0 0 0 963,494" marker-end="url(#ar)"/>
<path d="M1075,502 A30,30 0 0 0 1075,550" marker-end="url(#ar)"/><path d="M1083,558 A30,30 0 0 0 1114,545" marker-end="url(#ar)"/><path d="M1120,535 A30,30 0 0 0 1108,500"/>
<path d="M1018,488 C1010,500 1000,498 988,497" marker-end="url(#ar)"/><path d="M1084,486 C1085,470 1075,465 1065,472" marker-end="url(#ar)"/><path d="M1148,506 C1150,490 1140,488 1128,496" marker-end="url(#ar)"/>
</g>
<text class="b" x="962" y="529" text-anchor="middle">TCA</text>
<text class="b" x="1091" y="530" text-anchor="middle" font-size="8.5">β-oxidation</text>
<text class="t" x="1159" y="519" text-anchor="middle">Acyl-CoA</text>
<text class="b" x="1158" y="532" text-anchor="middle">+</text>
<text class="b" x="1155" y="545" text-anchor="middle">Carnitine</text><use href="#da" x="1184" y="535"/>
<rect x="927" y="568" width="58" height="35" fill="#f5f0e6" stroke="#c08070" stroke-width="0.8"/>
<rect x="927" y="580" width="58" height="10" fill="#d8c090"/>
<g fill="#3c9ac8"><rect x="935" y="574" width="5" height="22" rx="2"/><rect x="945" y="576" width="6" height="18" rx="2"/><rect x="955" y="574" width="5" height="22" rx="2"/><rect x="965" y="578" width="5" height="16" rx="2"/><rect x="973" y="574" width="5" height="22" rx="2"/></g>
<text class="t" x="910" y="592" font-size="8">ETC</text>
<text class="i" x="1161" y="609" text-anchor="middle" font-size="8.5">Mitochondria</text>
<g fill="#f7d8c5" stroke="#dda88a" stroke-width="1.2">
<path d="M846,600 C860,585 885,600 890,625 C893,650 880,658 870,650 C860,640 840,620 846,600 Z"/>
<ellipse cx="931" cy="648" rx="29" ry="15"/><ellipse cx="1012" cy="653" rx="34" ry="17"/><ellipse cx="1100" cy="650" rx="34" ry="17"/>
</g>
<g stroke="#e8b89a" stroke-width="1" fill="none"><path d="M910,650 l5,-6 l5,10 l5,-10 l5,10 l5,-10 l5,10 l5,-8"/><path d="M988,655 l5,-7 l5,12 l5,-12 l5,12 l5,-12 l5,12 l5,-12 l5,12 l5,-8"/><path d="M1076,652 l5,-7 l5,12 l5,-12 l5,12 l5,-12 l5,12 l5,-12 l5,12 l5,-8"/><path d="M852,605 l10,5 l-8,6 l12,5 l-8,6 l12,5 l-8,6"/></g>
<!-- carnitine shuttle -->
<text class="b" x="1208" y="484">Carnitine</text><use href="#da" x="1258" y="471"/>
<text class="t" x="1230" y="503" font-size="9">Acyl-CoA</text>
<path d="M1325,510 C1300,505 1300,498 1272,500" stroke="#222" stroke-width="0.8" fill="none" marker-end="url(#ar)"/>
<text class="t" x="1330" y="513">Fatty Acyl-CoA</text>
<path d="M1225,490 C1215,505 1215,520 1240,528" stroke="#222" stroke-width="0.8" fill="none" marker-end="url(#ar)"/>
<text class="b" x="1234" y="535">Acylcarnitine</text><use href="#da" x="1306" y="522"/>
<line x1="1231" y1="531" x2="1182" y2="531" stroke="#111" stroke-width="1" marker-end="url(#ar)"/>
<g class="i" font-size="7.5" text-anchor="middle"><text x="1404" y="559">CoA</text><text x="1404" y="569">activation</text></g>
<path d="M1333,518 C1310,550 1315,585 1337,603" stroke="#111" stroke-width="1.4" fill="none" marker-end="url(#ar)"/>
<path d="M1377,601 C1400,580 1405,545 1395,518" stroke="#111" stroke-width="1" fill="none" marker-end="url(#ar)"/>
<path d="M1340,608 q7,-3 14,0" stroke="#f4a020" stroke-width="2" fill="none"/><circle cx="1362" cy="607" r="3.5" fill="#e06a2a"/>
<use href="#da" x="1376" y="603"/>
<line x1="1272" y1="656" x2="1338" y2="614" stroke="#111" stroke-width="1" marker-end="url(#ar)"/>
<line x1="1360" y1="658" x2="1360" y2="620" stroke="#111" stroke-width="1" marker-end="url(#ar)"/>
<text class="t" x="1213" y="671">Membrane PLs</text><use href="#da" x="1202" y="656"/>
<g><line x1="1245" y1="650" x2="1243" y2="660" stroke="#d09030"/><line x1="1253" y1="650" x2="1255" y2="660" stroke="#d09030"/><circle cx="1245" cy="648" r="2" fill="#9a5a20"/><circle cx="1253" cy="648" r="2" fill="#9a5a20"/></g>
<text class="i" x="1507" y="668" text-anchor="middle" font-size="8.5">PTEC</text>
<!-- membrane -->
<rect x="887" y="678" width="591" height="24" fill="url(#mem)"/>
<path d="M1346,668 h28 v30 q-14,10 -28,0 Z" fill="#f0b6b6" stroke="#d89494" stroke-width="0.8"/>
<line x1="1360" y1="668" x2="1360" y2="705" stroke="#d89494" stroke-width="0.8"/>
<text class="b" x="1240" y="715">Fatty Acids</text><text class="b" x="1260" y="729">FA</text><use href="#da" x="1232" y="708"/>
<g stroke="#f4a020" stroke-width="2" fill="none"><path d="M1300,718 q8,-4 16,0"/><path d="M1295,727 q8,-4 16,0"/></g><circle cx="1330" cy="716" r="4" fill="#e06a2a"/><circle cx="1324" cy="726" r="4" fill="#e06a2a"/>
<path d="M1335,728 C1348,725 1352,715 1354,705" stroke="#111" stroke-width="0.8" fill="none" marker-end="url(#ar)"/>
<text class="i" x="1559" y="749" text-anchor="end" font-size="8.5">Tubular basement membrane</text>
<g class="i" font-size="8.5" text-anchor="middle"><text x="1541" y="768">Interstitial</text><text x="1541" y="779">fluid</text></g>
</svg>
</body></html>
